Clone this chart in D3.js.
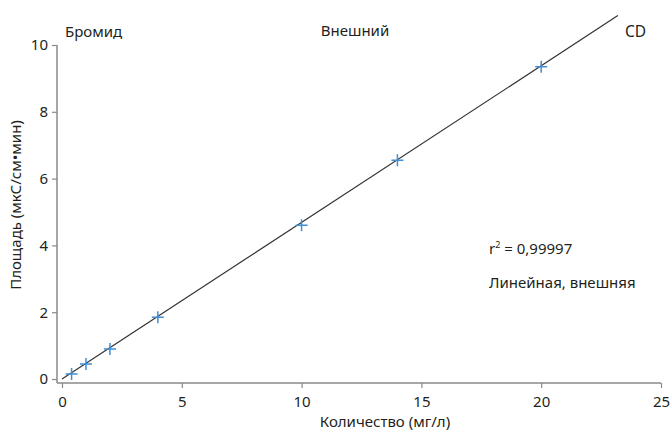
<!DOCTYPE html>
<html>
<head>
<meta charset="utf-8">
<script src="https://cdn.jsdelivr.net/npm/d3@7"></script>
<style>
  body { margin: 0; background: #fff; }
  text { font-family: "Noto Sans", "Open Sans", sans-serif; fill: #231f20; }
</style>
</head>
<body>
<svg id="chart" width="672" height="434"></svg>
<script>
// calibration points (mg/l -> area)
const amount = [0.4, 1, 2, 4, 10, 14, 20];
const area = [0.15, 0.45, 0.9, 1.85, 4.6, 6.55, 9.35];
// fitted line end points
const fitX = [0, 23.2];
const fitY = [0, 10.88];
const xTicks = [0, 5, 10, 15, 20, 25];
const yTicks = [0, 2, 4, 6, 8, 10];

const svg = d3.select('#chart');

const x = d3.scaleLinear().domain([0, 25]).range([62, 661]);
const y = d3.scaleLinear().domain([0, 10]).range([379, 45]);

const axisColor = '#8a8a8a';
const fs = '15px';

// y axis
const yAxis = svg.append('g')
    .attr('transform', 'translate(57,0)')
    .call(d3.axisLeft(y).tickValues(yTicks).tickSize(5).tickPadding(4).tickSizeOuter(0));
yAxis.select('.domain').attr('stroke', axisColor).attr('stroke-width', 1.5)
    .attr('d', `M0,${y(10)}V383`);
yAxis.selectAll('.tick line').attr('stroke', axisColor).attr('stroke-width', 1.2);
yAxis.selectAll('.tick text').style('font-size', fs).attr('fill', '#231f20');

// x axis
const xAxis = svg.append('g')
    .attr('transform', 'translate(0,383)')
    .call(d3.axisBottom(x).tickValues(xTicks).tickSize(5).tickPadding(8).tickSizeOuter(0));
xAxis.select('.domain').attr('stroke', axisColor).attr('stroke-width', 1.5)
    .attr('d', `M57,0H${x(25)}`);
xAxis.selectAll('.tick line').attr('stroke', axisColor).attr('stroke-width', 1.2);
xAxis.selectAll('.tick text').style('font-size', fs).attr('fill', '#231f20');

// fit line
svg.append('line')
    .attr('x1', x(fitX[0])).attr('y1', y(fitY[0]))
    .attr('x2', x(fitX[1])).attr('y2', y(fitY[1]))
    .attr('stroke', '#333').attr('stroke-width', 1.2);

// markers
const pts = amount.map((a, i) => [a, area[i]]);
const s = 6;
svg.append('g').selectAll('path')
    .data(pts)
    .join('path')
    .attr('d', d => `M${x(d[0]) - s},${y(d[1])}h${2 * s}M${x(d[0])},${y(d[1]) - s}v${2 * s}`)
    .attr('stroke', '#3f8fd6')
    .attr('stroke-width', 1.5)
    .attr('fill', 'none');

// labels
svg.append('text').attr('x', 65).attr('y', 37).style('font-size', fs).text('Бромид');
svg.append('text').attr('x', 355).attr('y', 36).attr('text-anchor', 'middle').style('font-size', fs).text('Внешний');
svg.append('text').attr('x', 625).attr('y', 37).style('font-size', '15.5px').text('CD');

const r2 = svg.append('text').attr('x', 489).attr('y', 254).style('font-size', fs);
r2.append('tspan').text('r');
r2.append('tspan').attr('dy', -6).style('font-size', '9px').text('2');
r2.append('tspan').attr('dy', 6).text(' = 0,99997');

svg.append('text').attr('x', 489).attr('y', 288).style('font-size', fs).text('Линейная, внешняя');

svg.append('text').attr('x', 385).attr('y', 427).attr('text-anchor', 'middle')
    .style('font-size', fs).text('Количество (мг/л)');
svg.append('text').attr('transform', 'translate(21,205) rotate(-90)').attr('text-anchor', 'middle')
    .style('font-size', fs).text('Площадь (мкС/см•мин)');
</script>
</body>
</html>
